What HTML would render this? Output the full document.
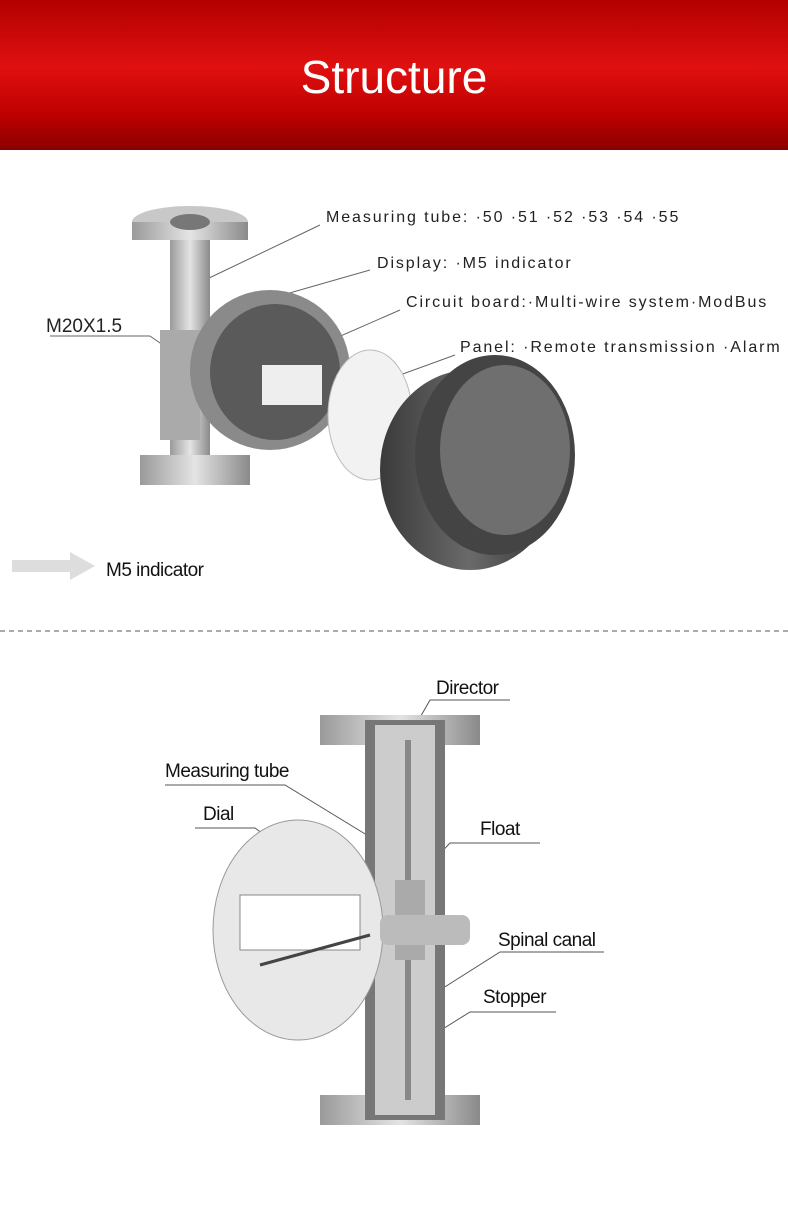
<!DOCTYPE html>
<html><head><meta charset="utf-8"><style>
body{margin:0;width:788px;height:1218px;background:#fff;overflow:hidden;font-family:"Liberation Sans",sans-serif}
.hdr{position:absolute;left:0;top:0;width:788px;height:150px;background:linear-gradient(#b30000,#e01010 45%,#c00000 75%,#8a0000);}
.hdr div{position:absolute;width:788px;top:50px;text-align:center;color:#fff;font-size:46px;}
</style></head><body>
<div class="hdr"><div>Structure</div></div>
<svg width="788" height="1218" style="position:absolute;left:0;top:0">
<defs>
<linearGradient id="m" x1="0" x2="1"><stop offset="0" stop-color="#9a9a9a"/><stop offset=".5" stop-color="#e4e4e4"/><stop offset="1" stop-color="#8a8a8a"/></linearGradient>
<linearGradient id="d" x1="0" x2="1"><stop offset="0" stop-color="#3a3a3a"/><stop offset=".5" stop-color="#6a6a6a"/><stop offset="1" stop-color="#2e2e2e"/></linearGradient>
</defs>
<g font-size="16" fill="#222" letter-spacing="1.9">
<text x="326" y="222">Measuring tube: ·50 ·51 ·52 ·53 ·54 ·55</text>
<text x="377" y="268">Display: ·M5 indicator</text>
<text x="406" y="307">Circuit board:·Multi-wire system·ModBus</text>
<text x="460" y="352">Panel: ·Remote transmission ·Alarm</text>
</g>
<text x="46" y="332" font-size="19" fill="#222">M20X1.5</text>
<text x="106" y="576" font-size="19" fill="#111" letter-spacing="-0.5">M5 indicator</text>
<polygon points="12,560 70,560 70,552 95,566 70,580 70,572 12,572" fill="#ddd"/>
<g stroke="#666" stroke-width="1" fill="none">
<line x1="320" y1="225" x2="205" y2="280"/><line x1="370" y1="270" x2="265" y2="300"/>
<line x1="400" y1="310" x2="320" y2="345"/><line x1="455" y1="355" x2="400" y2="375"/>
<line x1="50" y1="336" x2="150" y2="336"/><line x1="150" y1="336" x2="170" y2="350"/>
</g>
<rect x="170" y="240" width="40" height="230" fill="url(#m)"/>
<ellipse cx="190" cy="222" rx="58" ry="16" fill="#c8c8c8"/><rect x="132" y="222" width="116" height="18" fill="url(#m)"/>
<ellipse cx="190" cy="222" rx="20" ry="8" fill="#777"/>
<rect x="140" y="455" width="110" height="30" fill="url(#m)"/>
<rect x="160" y="330" width="40" height="110" fill="#aaa"/>
<ellipse cx="270" cy="370" rx="80" ry="80" fill="#8a8a8a"/>
<ellipse cx="275" cy="372" rx="65" ry="68" fill="#5a5a5a"/>
<rect x="262" y="365" width="60" height="40" fill="#eee"/>
<ellipse cx="370" cy="415" rx="42" ry="65" fill="#f2f2f2" stroke="#bbb"/>
<ellipse cx="470" cy="470" rx="90" ry="100" fill="url(#d)"/>
<ellipse cx="495" cy="455" rx="80" ry="100" fill="#444"/>
<ellipse cx="505" cy="450" rx="65" ry="85" fill="#6f6f6f"/>
<line x1="0" y1="631" x2="788" y2="631" stroke="#555" stroke-dasharray="5,4"/>
<g font-size="19" fill="#111" letter-spacing="-0.5">
<text x="436" y="694">Director</text><text x="165" y="777">Measuring tube</text>
<text x="203" y="820">Dial</text><text x="480" y="835">Float</text>
<text x="498" y="946">Spinal canal</text><text x="483" y="1003">Stopper</text>
</g>
<g stroke="#555" stroke-width="1" fill="none">
<polyline points="510,700 430,700 410,735"/><polyline points="165,785 285,785 375,840"/>
<polyline points="195,828 255,828 285,850"/><polyline points="540,843 450,843 415,880"/>
<polyline points="604,952 500,952 440,990"/><polyline points="556,1012 470,1012 425,1040"/>
</g>
<rect x="320" y="715" width="160" height="30" fill="url(#m)"/>
<rect x="320" y="1095" width="160" height="30" fill="url(#m)"/>
<rect x="365" y="720" width="80" height="400" fill="#777"/>
<rect x="375" y="725" width="60" height="390" fill="#ccc"/>
<rect x="405" y="740" width="6" height="360" fill="#888"/>
<rect x="395" y="880" width="30" height="80" fill="#aaa"/>
<ellipse cx="298" cy="930" rx="85" ry="110" fill="#e8e8e8" stroke="#999"/>
<rect x="240" y="895" width="120" height="55" fill="#fff" stroke="#888"/>
<line x1="260" y1="965" x2="370" y2="935" stroke="#444" stroke-width="3"/>
<rect x="380" y="915" width="90" height="30" rx="8" fill="#bbb"/>
</svg>
</body></html>
